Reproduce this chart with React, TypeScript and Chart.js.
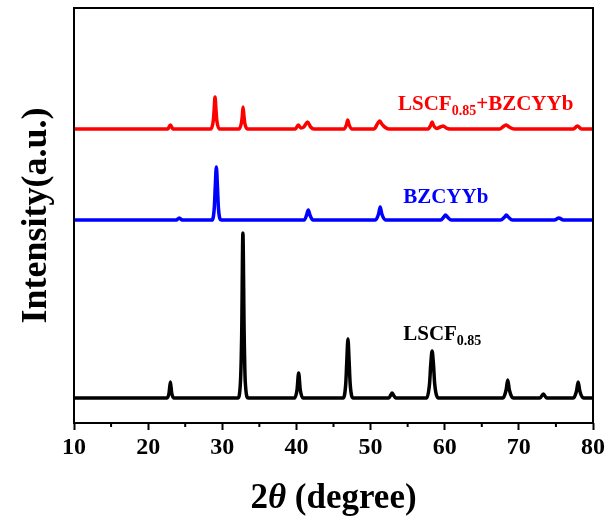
import React, { useEffect, useRef } from 'react';
import { Chart, registerables } from 'chart.js';

Chart.register(...registerables);

// x axis (2θ, degree)
const xMin = 10;
const xMax = 80;
const majorTicks = [10, 20, 30, 40, 50, 60, 70, 80];
const minorTicks = [15, 25, 35, 45, 55, 65, 75];

// LSCF0.85 pattern (intensity above its own baseline, a.u.)
const lscfX = [10, 22.55, 22.82, 23.0, 23.18, 23.45, 32.1, 32.45, 32.62, 32.78, 32.95, 33.1, 33.5, 39.75, 40.08, 40.3, 40.52, 40.9, 46.3, 46.65, 46.8, 46.95, 47.1, 47.25, 47.65, 52.45, 52.72, 52.9, 53.08, 53.4, 57.55, 57.95, 58.12, 58.3, 58.48, 58.65, 59.15, 67.85, 68.28, 68.5, 68.72, 69.25, 72.85, 73.3, 73.75, 77.35, 77.78, 78.0, 78.22, 78.75, 80];
const lscfY = [0, 0, 5, 16, 5, 0, 0, 16, 65, 165, 65, 16, 0, 0, 8, 25, 8, 0, 0, 14, 38, 59, 38, 14, 0, 0, 3, 5, 3, 0, 0, 14, 34, 47, 34, 14, 0, 0, 8, 18, 8, 0, 0, 4, 0, 0, 7, 16, 7, 0, 0];

// BZCYYb pattern
const bzcyybX = [10, 23.8, 24.2, 24.6, 28.6, 28.92, 29.05, 29.2, 29.35, 29.48, 29.85, 41.05, 41.38, 41.6, 41.82, 42.25, 50.65, 51.08, 51.3, 51.52, 52.05, 59.45, 59.88, 60.1, 60.37, 60.85, 67.55, 68.08, 68.3, 68.57, 69.15, 74.8, 75.4, 76.0, 80];
const bzcyybY = [0, 0, 2, 0, 0, 12, 33, 53, 33, 12, 0, 0, 5, 10, 5, 0, 0, 6, 13, 6, 0, 0, 3, 5, 3, 0, 0, 3, 5, 3, 0, 0, 2, 0, 0];

// LSCF0.85+BZCYYb pattern
const mixX = [10, 22.65, 23.0, 23.35, 28.45, 28.78, 28.9, 29.02, 29.15, 29.27, 29.65, 32.25, 32.58, 32.7, 32.8, 32.92, 33.03, 33.4, 39.85, 40.25, 40.6, 41.0, 41.5, 41.92, 42.35, 46.45, 46.78, 46.92, 47.07, 47.45, 50.45, 51.0, 51.25, 51.52, 51.9, 52.45, 57.75, 58.13, 58.3, 58.47, 58.9, 59.4, 59.8, 60.2, 60.65, 67.45, 68.0, 68.3, 68.7, 69.35, 77.35, 77.9, 78.45, 80];
const mixY = [0, 0, 4, 0, 0, 8, 19, 32, 19, 8, 0, 0, 6, 13, 22, 13, 6, 0, 0, 4, 1, 2, 7, 2, 0, 0, 5, 9, 5, 0, 0, 6, 8, 5, 2, 0, 0, 4, 7, 4, 0.5, 2, 3, 1, 0, 0, 3, 4, 2, 0, 0, 3, 0, 0];

// vertical offsets of the stacked patterns
const lscfOffset = 25;
const bzcyybOffset = 203;
const mixOffset = 294;
const yMax = 415;

const FONT = "'Liberation Serif', 'Times New Roman', serif";

type Part = { text: string; size: number; dy?: number; italic?: boolean };

function drawRich(ctx: CanvasRenderingContext2D, x: number, y: number, parts: Part[], color: string, align: 'left' | 'center' = 'left') {
  ctx.save();
  ctx.fillStyle = color;
  ctx.textBaseline = 'alphabetic';
  ctx.textAlign = 'left';
  let total = 0;
  const widths = parts.map((p) => {
    ctx.font = `${p.italic ? 'italic ' : ''}bold ${p.size}px ${FONT}`;
    const w = ctx.measureText(p.text).width;
    total += w;
    return w;
  });
  let cx = align === 'center' ? x - total / 2 : x;
  parts.forEach((p, i) => {
    ctx.font = `${p.italic ? 'italic ' : ''}bold ${p.size}px ${FONT}`;
    ctx.fillText(p.text, cx, y + (p.dy || 0));
    cx += widths[i];
  });
  ctx.restore();
}

const decorPlugin = {
  id: 'decor',
  afterDraw(chart: any) {
    const { ctx, chartArea } = chart;
    const xs = chart.scales.x;
    const ys = chart.scales.y;
    ctx.save();
    // frame
    ctx.strokeStyle = '#000';
    ctx.lineWidth = 2;
    ctx.strokeRect(chartArea.left, chartArea.top, chartArea.right - chartArea.left, chartArea.bottom - chartArea.top);
    // minor ticks
    ctx.beginPath();
    minorTicks.forEach((v) => {
      const px = xs.getPixelForValue(v);
      ctx.moveTo(px, chartArea.bottom);
      ctx.lineTo(px, chartArea.bottom + 4);
    });
    ctx.stroke();
    ctx.restore();

    // series labels
    drawRich(ctx, xs.getPixelForValue(53.7), ys.getPixelForValue(313), [
      { text: 'LSCF', size: 21 },
      { text: '0.85', size: 14, dy: 5 },
      { text: '+BZCYYb', size: 21 },
    ], '#FF0000');
    drawRich(ctx, xs.getPixelForValue(54.4), ys.getPixelForValue(220), [
      { text: 'BZCYYb', size: 21 },
    ], '#0000FF');
    drawRich(ctx, xs.getPixelForValue(54.4), ys.getPixelForValue(83), [
      { text: 'LSCF', size: 21 },
      { text: '0.85', size: 14, dy: 5 },
    ], '#000000');

    // x axis title
    const cxTitle = (chartArea.left + chartArea.right) / 2;
    drawRich(ctx, cxTitle, 508, [
      { text: '2', size: 35 },
      { text: 'θ', size: 35, italic: true },
      { text: ' (degree)', size: 35 },
    ], '#000', 'center');

    // y axis title
    ctx.save();
    ctx.translate(46, (chartArea.top + chartArea.bottom) / 2);
    ctx.rotate(-Math.PI / 2);
    drawRich(ctx, 0, 0, [{ text: 'Intensity(a.u.)', size: 36 }], '#000', 'center');
    ctx.restore();
  },
};

export default function App() {
  const ref = useRef<HTMLCanvasElement | null>(null);
  useEffect(() => {
    if (!ref.current) return;
    const mk = (xsArr: number[], ysArr: number[], off: number) => xsArr.map((x, i) => ({ x, y: ysArr[i] + off }));
    const common = {
      pointRadius: 0,
      borderWidth: 3.5,
      cubicInterpolationMode: 'monotone' as const,
      borderJoinStyle: 'round' as const,
      borderCapStyle: 'round' as const,
      fill: false,
    };
    const chart = new Chart(ref.current, {
      type: 'line',
      data: {
        datasets: [
          { label: 'LSCF0.85', data: mk(lscfX, lscfY, lscfOffset), borderColor: '#000000', ...common },
          { label: 'BZCYYb', data: mk(bzcyybX, bzcyybY, bzcyybOffset), borderColor: '#0000FF', ...common },
          { label: 'LSCF0.85+BZCYYb', data: mk(mixX, mixY, mixOffset), borderColor: '#FF0000', ...common },
        ],
      },
      options: {
        animation: false,
        responsive: true,
        maintainAspectRatio: false,
        layout: { padding: { left: 74, right: 16, top: 8, bottom: 0 } },
        plugins: { legend: { display: false }, tooltip: { enabled: false } },
        scales: {
          x: {
            type: 'linear',
            min: xMin,
            max: xMax,
            afterFit: (s: any) => { s.height = 106; },
            afterBuildTicks: (s: any) => { s.ticks = majorTicks.map((v) => ({ value: v })); },
            grid: { display: true, drawOnChartArea: false, drawTicks: true, tickLength: 7, tickWidth: 2, tickColor: '#000' },
            border: { display: false },
            ticks: { padding: 3, color: '#000', font: { family: FONT, weight: 'bold', size: 24 } },
          },
          y: {
            type: 'linear',
            min: 0,
            max: yMax,
            display: false,
          },
        },
      },
      plugins: [decorPlugin],
    });
    return () => chart.destroy();
  }, []);
  return (
    <div style={{ position: 'absolute', left: 0, top: 0, width: 609, height: 529, background: '#fff' }}>
      <canvas ref={ref} />
    </div>
  );
}
